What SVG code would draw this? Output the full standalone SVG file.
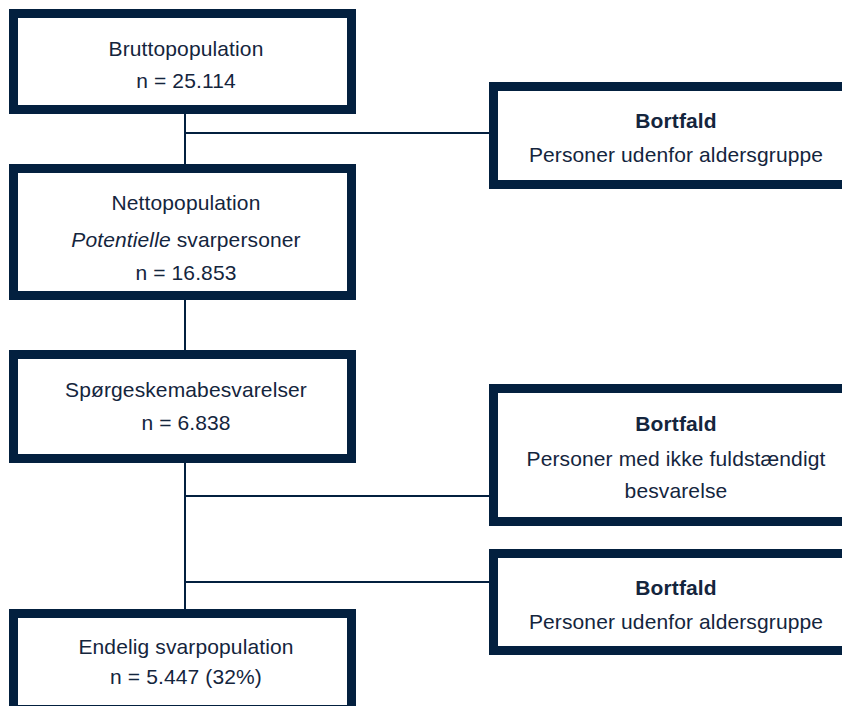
<svg xmlns="http://www.w3.org/2000/svg" width="842" height="706" viewBox="0 0 842 706">
<style>
.box{fill:#ffffff;stroke:#03203f;stroke-width:9}
.t{font-family:"Liberation Sans",Arial,sans-serif;font-size:21px;letter-spacing:0.12px;fill:#14253d;text-anchor:middle}
.b{font-weight:bold}
.c{stroke:#03203f;stroke-width:2;fill:none}
</style>
<rect width="842" height="706" fill="#ffffff"/>
<g id="connectors">
<line class="c" x1="185" y1="112" x2="185" y2="166"/>
<line class="c" x1="185" y1="133" x2="492" y2="133"/>
<line class="c" x1="185" y1="298" x2="185" y2="352"/>
<line class="c" x1="185" y1="461" x2="185" y2="611"/>
<line class="c" x1="185" y1="496" x2="492" y2="496"/>
<line class="c" x1="185" y1="582" x2="492" y2="582"/>
</g>
<g id="n1">
<rect class="box" x="13.5" y="13.5" width="338" height="96"/>
<text class="t" x="186" y="55.5">Bruttopopulation</text>
<text class="t" x="186" y="88">n = 25.114</text>
</g>
<g id="n2">
<rect class="box" x="13.5" y="168.5" width="338" height="127"/>
<text class="t" x="186" y="210">Nettopopulation</text>
<text class="t" x="186" y="246.5"><tspan font-style="italic">Potentielle</tspan> svarpersoner</text>
<text class="t" x="186" y="280">n = 16.853</text>
</g>
<g id="n3">
<rect class="box" x="13.5" y="354.5" width="338" height="104"/>
<text class="t" x="186" y="396.5">Spørgeskemabesvarelser</text>
<text class="t" x="186" y="430">n = 6.838</text>
</g>
<g id="n4">
<rect class="box" x="13.5" y="613.5" width="338" height="96"/>
<text class="t" x="186" y="654">Endelig svarpopulation</text>
<text class="t" x="186" y="684">n = 5.447 (32%)</text>
</g>
<g id="r1">
<rect class="box" x="493.5" y="86.5" width="360" height="98"/>
<text class="t b" x="676" y="128">Bortfald</text>
<text class="t" x="676" y="162">Personer udenfor aldersgruppe</text>
</g>
<g id="r2">
<rect class="box" x="493.5" y="388.5" width="360" height="133"/>
<text class="t b" x="676" y="431">Bortfald</text>
<text class="t" x="676" y="465.5">Personer med ikke fuldstændigt</text>
<text class="t" x="676" y="498">besvarelse</text>
</g>
<g id="r3">
<rect class="box" x="493.5" y="553.5" width="360" height="97"/>
<text class="t b" x="676" y="595">Bortfald</text>
<text class="t" x="676" y="629">Personer udenfor aldersgruppe</text>
</g>
</svg>
